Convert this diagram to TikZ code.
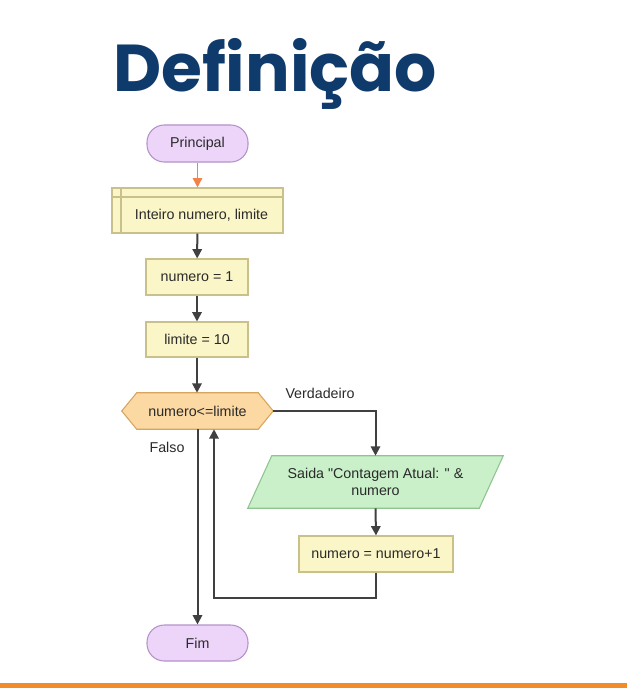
\documentclass[tikz,border=0pt]{standalone}
\usepackage{fontspec}
\setmainfont{Liberation Sans}
\newfontfamily\bodyfont{Liberation Sans}
\newfontfamily\titlefont{Poppins}
\usetikzlibrary{arrows.meta}
\definecolor{titlec}{HTML}{0F3B6C}
\definecolor{lav}{HTML}{EDD5FA}
\definecolor{lavb}{HTML}{B592C8}
\definecolor{yel}{HTML}{FBF6C8}
\definecolor{yelb}{HTML}{C9C08A}
\definecolor{orf}{HTML}{FCD8A2}
\definecolor{orb}{HTML}{D6A55E}
\definecolor{grf}{HTML}{C9F0C8}
\definecolor{grb}{HTML}{8FC490}
\definecolor{linec}{HTML}{404040}
\definecolor{arrowor}{HTML}{F08448}
\definecolor{bar}{HTML}{F28B2A}
\definecolor{txt}{HTML}{2A2A2A}
\tikzset{
  term/.style={draw=lavb, fill=lav, rounded corners=13pt, line width=0.8pt, text=txt, font=\bodyfont\fontsize{10.7}{12.5}\selectfont, inner sep=0pt},
  procbox/.style={draw=yelb, fill=yel, line width=0.8pt, text=txt, font=\bodyfont\fontsize{10.7}{12.5}\selectfont, inner sep=0pt},
  plain/.style={inner sep=0pt, text=txt, font=\bodyfont\fontsize{10.7}{12.5}\selectfont, align=center},
  conn/.style={draw=linec, line width=1.5pt, -{Triangle[length=7pt,width=7pt]}},
}
\begin{document}
\begin{tikzpicture}[x=0.75pt,y=-0.75pt]
\useasboundingbox (0,0) rectangle (627,688);
\fill[white] (0,0) rectangle (627,688);
% title
\node[anchor=base, inner sep=0pt, text=titlec, font=\titlefont\bfseries\fontsize{49.7}{58}\selectfont] (title) at (275,92) {Definição};
% nodes
\node[term, minimum width=75.75pt, minimum height=27.75pt] (prin) at (197.5,143.5) {Principal};
\node[procbox, minimum width=128.25pt, minimum height=33.75pt] (decl) at (197.5,210.5) {};
\draw[yelb, line width=0.8pt] (121,188) -- (121,233) (112,197) -- (283,197);
\node[plain] (decltext) at (201.5,215) {Inteiro numero, limite};
\node[procbox, minimum width=76.5pt, minimum height=27pt] (n1) at (197,277) {numero = 1};
\node[procbox, minimum width=76.5pt, minimum height=26.25pt] (lim) at (197,339.5) {limite = 10};
% decision
\node[plain, minimum width=113.25pt, minimum height=27pt] (dec) at (197.5,411) {};
\draw[orb, fill=orf, line width=0.8pt] (dec.west) -- ([xshift=11.25pt]dec.north west) -- ([xshift=-11.25pt]dec.north east) -- (dec.east) -- ([xshift=-11.25pt]dec.south east) -- ([xshift=11.25pt]dec.south west) -- cycle;
\node[plain] (dectext) at (197.5,411) {numero<=limite};
% output parallelogram
\node[plain, minimum width=173.25pt, minimum height=39pt] (out) at (375.5,482) {};
\draw[grb, fill=grf, line width=0.8pt] ([xshift=-9pt]out.south west) -- ([xshift=9pt]out.north west) -- ([xshift=9pt]out.north east) -- ([xshift=-9pt]out.south east) -- cycle;
\node[plain] (outtext) at (375.5,482) {Saida "Contagem Atual: " \&\\numero};
\node[procbox, minimum width=115.5pt, minimum height=27pt] (inc) at (376,554) {numero = numero+1};
\node[term, minimum width=75.75pt, minimum height=27pt] (fim) at (197.5,643) {Fim};
% labels
\node[plain] (vlab) at (320,393) {Verdadeiro};
\node[plain] (flab) at (167,447) {Falso};
% connectors
\draw[conn, draw=arrowor, line width=1.2pt] (prin) -- (decl);
\draw[conn] (decl) -- (n1);
\draw[conn] (n1) -- (lim);
\draw[conn] (lim) -- ([xshift=-0.375pt]dec.north);
\draw[conn] (dec.east) -| (out.north);
\draw[conn] (out.south) -- (inc.north);
\coordinate (lp) at (214,598);
\draw[conn] (inc.south) |- (lp) -- (lp |- dec.south);
\draw[conn] (dec.south) -- (fim.north);
% bottom bar
\fill[bar] (0,683) rectangle (627,688);
\end{tikzpicture}
\end{document}
